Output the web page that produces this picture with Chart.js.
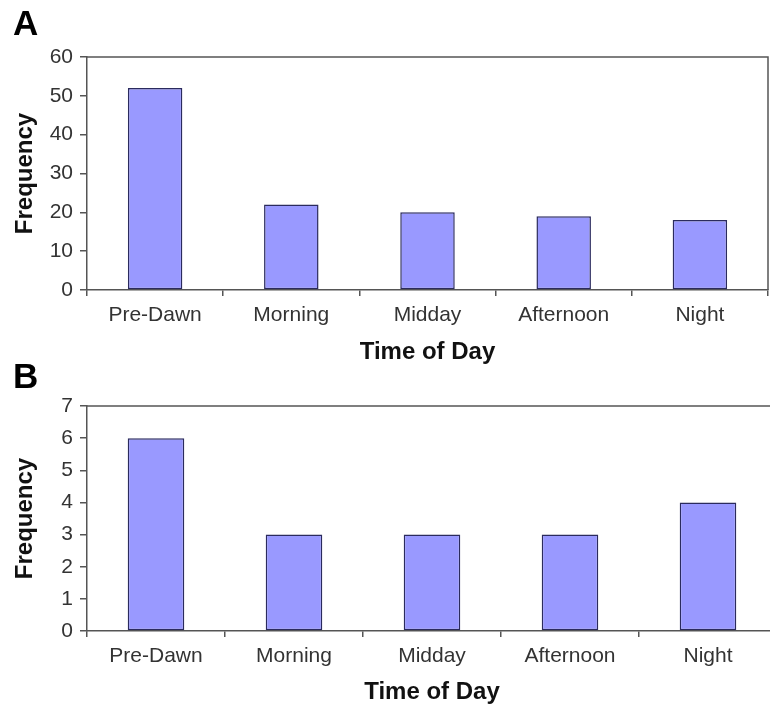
<!DOCTYPE html>
<html>
<head>
<meta charset="utf-8">
<script src="https://cdn.jsdelivr.net/npm/chart.js@4.4.1/dist/chart.umd.min.js"></script>
<style>
  html, body { margin: 0; padding: 0; background: #fff; overflow: hidden; width: 770px; height: 711px; }
  #wrapA { position: absolute; left: 0; top: 0; width: 770px; height: 370px; }
  #wrapB { position: absolute; left: 0; top: 355px; width: 790px; height: 356px; }
</style>
</head>
<body>
<div id="wrapA"><canvas id="chartA"></canvas></div>
<div id="wrapB"><canvas id="chartB"></canvas></div>
<script>
const categories = ['Pre-Dawn', 'Morning', 'Midday', 'Afternoon', 'Night'];
const frequencyA = [52, 22, 20, 19, 18];
const frequencyB = [6, 3, 3, 3, 4];
const yTicksA = [0, 10, 20, 30, 40, 50, 60];
const yTicksB = [0, 1, 2, 3, 4, 5, 6, 7];
const panelLetters = ['A', 'B'];
const xTitle = 'Time of Day';
const yTitle = 'Frequency';

const FONT = '"Liberation Sans", Arial, Helvetica, sans-serif';
const AXIS = '#555555';

const framePlugin = {
  id: 'frame',
  afterDraw(chart, args, opts) {
    const { ctx, chartArea: a } = chart;
    ctx.save();
    ctx.strokeStyle = AXIS;
    ctx.lineWidth = 1.5;
    ctx.beginPath();
    ctx.moveTo(a.left, a.top);
    ctx.lineTo(a.right, a.top);
    if (opts.right) ctx.lineTo(a.right, a.bottom);
    ctx.stroke();
    ctx.fillStyle = '#000';
    ctx.font = 'bold 35px ' + FONT;
    ctx.textBaseline = 'alphabetic';
    ctx.textAlign = 'left';
    ctx.fillText(opts.letter, opts.lx, opts.ly);
    ctx.restore();
  }
};

function makeChart(id, values, yTicks, cfg) {
  const yMax = yTicks[yTicks.length - 1];
  const step = yTicks[1] - yTicks[0];
  return new Chart(document.getElementById(id), {
    type: 'bar',
    data: {
      labels: categories,
      datasets: [{
        data: values,
        backgroundColor: '#9999ff',
        borderColor: '#2b2b5e',
        borderWidth: 1.5,
        borderSkipped: false,
        categoryPercentage: 1,
        barPercentage: cfg.barPct
      }]
    },
    options: {
      responsive: true,
      maintainAspectRatio: false,
      devicePixelRatio: 1,
      animation: false,
      layout: { padding: { top: cfg.top, right: cfg.right, bottom: cfg.bottom, left: 0 } },
      plugins: {
        legend: { display: false },
        tooltip: { enabled: false },
        frame: { right: cfg.frameRight, letter: cfg.letter, lx: 13, ly: cfg.ly }
      },
      scales: {
        x: {
          offset: true,
          grid: { offset: true, drawOnChartArea: false, drawTicks: true, tickLength: 6, color: AXIS, lineWidth: 1.5 },
          border: { display: true, color: AXIS, width: 1.5 },
          ticks: { font: { family: FONT, size: 21 }, color: '#333', padding: 7, maxRotation: 0 },
          title: { display: true, text: xTitle, font: { family: FONT, size: 24, weight: 'bold' }, color: '#111', padding: { top: 0, bottom: 0 } },
          afterFit(s) { s.height = cfg.xH; }
        },
        y: {
          min: 0, max: yMax,
          grid: { drawOnChartArea: false, drawTicks: true, tickLength: 7, color: AXIS, lineWidth: 1.5 },
          border: { display: true, color: AXIS, width: 1.5 },
          ticks: { stepSize: step, font: { family: FONT, size: 21 }, color: '#333', padding: 7 },
          title: { display: true, text: yTitle, font: { family: FONT, size: 24, weight: 'bold' }, color: '#111', padding: { top: 11, bottom: 0 } },
          afterFit(s) { s.width = 87; }
        }
      }
    },
    plugins: [framePlugin]
  });
}

makeChart('chartA', frequencyA, yTicksA, { top: 57, right: 2, bottom: 3, xH: 77, barPct: 0.4, frameRight: true, letter: panelLetters[0], ly: 35 });
makeChart('chartB', frequencyB, yTicksB, { top: 51, right: 13, bottom: 4, xH: 76, barPct: 0.41, frameRight: false, letter: panelLetters[1], ly: 33 });
</script>
</body>
</html>
